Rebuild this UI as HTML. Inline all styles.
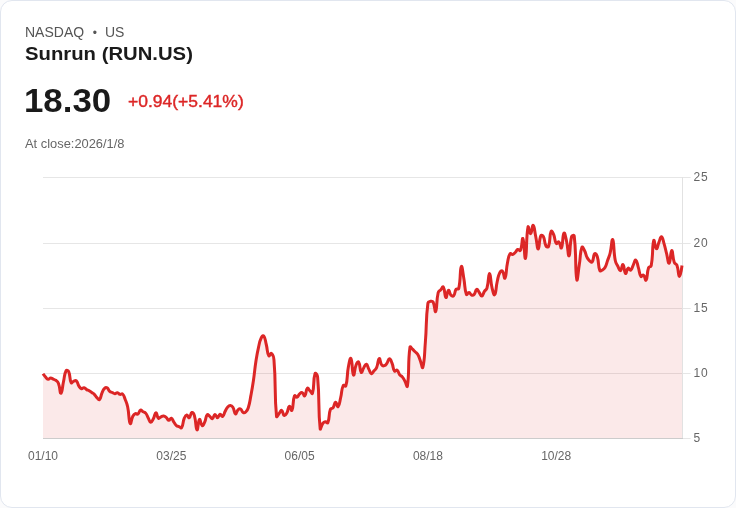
<!DOCTYPE html>
<html lang="en">
<head>
<meta charset="utf-8">
<title>Sunrun (RUN.US)</title>
<style>
html,body{margin:0;padding:0;background:#fbfbfc;}
body{width:736px;height:508px;overflow:hidden;position:relative;font-family:"Liberation Sans",Arial,sans-serif;}
.card{position:absolute;left:0;top:0;width:734px;height:506px;border:1px solid #e1e6ef;border-radius:12px;background:#fff;}
.t{position:absolute;white-space:nowrap;line-height:1;}
.t{transform-origin:0 0;}
.exch{left:25px;top:24px;font-size:14.5px;color:#555;transform:translateY(0.7px) scaleX(0.965);}
.dot{left:92.8px;top:27px;font-size:12px;color:#555;}
.us{left:105.4px;top:24px;font-size:14.5px;color:#555;transform:translateY(0.7px) scaleX(0.965);}
.name{left:25px;top:44px;font-size:18px;font-weight:700;color:#1a1a1a;transform:translateY(0.5px) scaleX(1.127);}
.price{left:23.8px;top:83px;font-size:33.8px;font-weight:700;color:#1a1a1a;transform:translateY(0.55px) scaleX(1.03);}
.chg{left:128px;top:93px;font-size:16.5px;font-weight:400;color:#dc2626;-webkit-text-stroke:0.4px #dc2626;transform:scaleX(1.06);}
.close{left:25px;top:138px;font-size:12px;color:#666;transform:scaleX(1.073);}
svg{position:absolute;left:0;top:0;}
svg text{font-family:"Liberation Sans",Arial,sans-serif;font-size:12px;fill:#666;}
</style>
</head>
<body>
<div class="card"></div>
<div class="t exch">NASDAQ</div><div class="t dot">•</div><div class="t us">US</div>
<div class="t name">Sunrun (RUN.US)</div>
<div class="t price">18.30</div>
<div class="t chg">+0.94(+5.41%)</div>
<div class="t close">At close:2026/1/8</div>
<svg width="736" height="508" viewBox="0 0 736 508">
<g stroke="#e6e6e6" stroke-width="1" shape-rendering="crispEdges">
<line x1="43" y1="177.5" x2="682" y2="177.5"/>
<line x1="43" y1="243.5" x2="682" y2="243.5"/>
<line x1="43" y1="308.5" x2="682" y2="308.5"/>
<line x1="43" y1="373.5" x2="682" y2="373.5"/>
</g>
<path d="M43.00,373.70C43.00,373.70 44.16,375.47 45.57,377.00C46.73,378.27 46.73,379.03 48.13,379.30C49.30,379.53 49.41,378.03 50.70,378.00C51.97,377.98 51.97,378.62 53.27,379.20C54.54,379.77 54.76,379.46 55.83,380.30C57.32,381.46 57.70,381.44 58.40,383.20C60.27,387.94 59.78,393.69 60.96,393.30C62.34,392.84 62.19,387.39 63.53,381.50C64.75,376.14 64.03,374.83 66.10,370.80C66.60,369.83 68.18,370.38 68.66,371.50C70.75,376.38 69.20,379.01 71.23,382.80C71.77,383.81 72.40,381.62 73.80,381.10C74.96,380.67 75.57,380.13 76.36,380.90C78.14,382.63 77.35,383.71 78.93,386.10C79.92,387.61 80.03,388.24 81.49,388.70C82.60,389.04 82.87,387.49 84.06,387.70C85.44,387.94 85.26,388.80 86.63,389.60C87.82,390.30 88.00,390.00 89.19,390.70C90.56,391.50 90.45,391.68 91.76,392.60C93.02,393.48 93.24,393.24 94.33,394.30C95.80,395.74 95.45,396.11 96.89,397.60C98.01,398.76 98.66,400.34 99.46,399.60C101.23,397.94 100.53,396.10 102.02,392.80C103.09,390.45 102.88,389.93 104.59,388.30C105.45,387.48 106.20,387.32 107.16,387.90C108.76,388.87 108.16,390.00 109.72,391.40C110.73,392.30 111.02,391.93 112.29,392.50C113.58,393.08 113.55,393.65 114.86,393.70C116.12,393.75 116.21,392.53 117.42,392.70C118.78,392.88 118.60,394.05 119.99,394.40C121.16,394.70 121.76,393.26 122.55,394.00C124.33,395.66 124.06,396.51 125.12,399.20C126.62,403.01 126.84,402.99 127.69,407.00C129.41,415.19 128.50,420.46 130.25,423.60C131.07,425.06 131.07,419.61 132.82,416.20C133.64,414.61 133.89,414.24 135.39,413.60C136.45,413.14 137.03,414.63 137.95,414.00C139.60,412.88 138.97,410.76 140.52,410.10C141.54,409.66 141.76,411.02 143.08,411.80C144.32,412.52 144.76,412.05 145.65,413.10C147.33,415.10 146.89,415.52 148.22,417.90C149.46,420.12 149.40,422.06 150.78,422.30C151.96,422.51 152.33,420.70 153.35,418.80C154.90,415.90 154.59,412.83 155.92,412.70C157.15,412.58 156.75,416.92 158.48,418.30C159.32,418.97 159.70,417.40 161.05,416.80C162.27,416.25 162.37,415.88 163.61,416.00C164.94,416.13 165.10,416.39 166.18,417.30C167.67,418.54 167.35,420.06 168.75,420.30C169.92,420.51 170.25,417.83 171.31,418.20C172.81,418.73 172.55,420.18 173.88,422.10C175.12,423.88 174.88,424.22 176.45,425.60C177.44,426.47 177.74,426.08 179.01,426.60C180.30,427.13 180.99,428.61 181.58,427.70C183.56,424.61 182.39,422.92 184.14,418.60C184.95,416.62 185.32,415.34 186.71,415.10C187.88,414.89 188.29,418.20 189.28,417.70C190.85,416.90 190.33,413.12 191.84,412.50C192.89,412.07 193.85,413.71 194.41,415.60C196.42,422.41 195.50,428.78 196.98,429.90C198.07,430.73 197.96,420.83 199.54,419.50C200.52,418.68 200.56,424.81 202.11,425.60C203.12,426.11 203.76,424.04 204.67,422.10C206.33,418.59 205.40,416.75 207.24,414.70C207.96,413.90 208.58,415.47 209.81,416.40C211.15,417.42 211.33,419.01 212.37,418.60C213.89,418.01 213.55,414.64 214.94,414.40C216.12,414.19 216.25,417.75 217.51,417.70C218.81,417.65 218.64,414.53 220.07,414.20C221.21,413.93 221.69,417.05 222.64,416.50C224.26,415.55 223.82,413.79 225.20,411.20C226.38,408.99 226.14,408.68 227.77,406.90C228.71,405.88 229.10,405.50 230.34,405.60C231.66,405.70 232.12,406.05 232.90,407.30C234.69,410.15 233.93,413.02 235.47,413.80C236.50,414.32 236.41,411.42 238.04,409.90C238.98,409.02 239.61,408.50 240.60,409.00C242.18,409.80 241.57,411.56 243.17,412.50C244.13,413.06 244.85,412.82 245.73,412.00C247.42,410.42 247.56,410.06 248.30,407.70C250.13,401.86 249.72,401.68 250.87,395.60C252.29,388.08 252.32,388.07 253.43,380.50C254.88,370.67 254.49,370.61 256.00,360.80C257.05,353.96 257.04,353.94 258.57,347.20C259.60,342.64 259.26,342.33 261.13,338.20C261.82,336.68 262.99,335.03 263.70,335.90C265.55,338.18 265.14,340.16 266.27,344.50C267.71,350.11 266.86,352.39 268.83,355.80C269.43,356.84 270.54,352.71 271.40,353.40C273.11,354.76 273.68,356.44 273.96,359.90C276.25,387.89 274.13,391.19 276.53,416.30C276.69,417.99 277.85,414.93 279.10,413.50C280.42,411.98 280.60,409.99 281.66,410.40C283.17,410.99 282.64,414.66 284.23,415.50C285.21,416.01 285.95,414.60 286.80,413.10C288.52,410.05 287.82,407.21 289.36,406.40C290.38,405.86 291.30,411.69 291.93,410.40C293.87,406.39 292.35,401.31 294.49,395.80C294.92,394.71 296.02,397.61 297.06,397.20C298.58,396.61 298.08,395.16 299.63,393.80C300.64,392.91 301.14,392.29 302.19,392.70C303.71,393.29 303.89,396.54 304.76,395.80C306.46,394.34 305.55,390.07 307.33,388.30C308.11,387.52 308.63,389.47 309.89,390.70C311.20,391.97 312.06,394.63 312.46,393.30C314.62,386.13 312.89,380.55 315.02,373.70C315.46,372.30 317.41,374.82 317.59,376.80C319.97,402.27 317.84,407.57 320.16,428.60C320.41,430.92 321.06,425.71 322.72,423.50C323.62,422.31 323.92,422.04 325.29,421.80C326.49,421.59 327.43,423.64 327.86,422.60C330.00,417.34 328.30,415.27 330.42,409.20C330.87,407.92 332.17,409.00 332.99,407.90C334.74,405.55 334.14,402.66 335.55,402.30C336.70,402.01 337.23,407.43 338.12,406.60C339.80,405.03 339.57,402.09 340.69,397.50C342.14,391.54 341.14,390.29 343.25,385.50C343.70,384.49 345.51,387.01 345.82,385.90C348.08,377.66 346.62,376.24 348.39,366.80C349.18,362.54 350.07,357.10 350.95,358.50C352.64,361.20 351.93,372.99 353.52,375.00C354.50,376.24 354.23,369.70 356.08,365.00C356.79,363.20 357.96,361.00 358.65,362.00C360.53,364.70 359.51,370.50 361.22,372.40C362.07,373.35 362.37,369.96 363.78,367.70C364.93,365.86 365.25,363.84 366.35,364.20C367.82,364.69 367.54,366.85 368.92,369.40C370.10,371.60 370.05,373.34 371.48,373.70C372.61,373.99 372.77,372.20 374.05,370.70C375.33,369.20 375.86,369.48 376.61,367.70C378.43,363.38 377.70,359.28 379.18,358.50C380.27,357.93 379.89,362.39 381.75,365.00C382.45,365.99 383.21,366.07 384.31,365.70C385.77,365.22 385.85,364.70 386.88,363.30C388.42,361.20 388.14,358.75 389.45,358.70C390.71,358.65 391.04,360.76 392.01,363.10C393.61,366.96 392.64,368.42 394.58,371.10C395.21,371.97 396.27,369.57 397.14,370.20C398.84,371.42 398.14,372.74 399.71,374.80C400.70,376.09 401.23,375.64 402.28,376.90C403.80,378.74 403.67,378.89 404.84,381.00C406.23,383.49 407.08,388.26 407.41,386.10C409.65,371.36 407.61,364.23 409.98,347.20C410.17,345.78 411.33,348.12 412.54,349.20C413.90,350.42 413.81,350.51 415.11,351.80C416.38,353.06 416.78,352.79 417.67,354.30C419.35,357.14 419.02,357.38 420.24,360.50C421.58,363.93 422.23,369.47 422.81,367.40C424.80,360.22 424.36,354.72 425.37,342.00C426.93,322.52 425.56,321.86 427.94,303.00C428.13,301.51 429.12,301.60 430.51,301.30C431.69,301.05 432.54,300.83 433.07,301.90C435.10,305.98 434.76,313.21 435.64,311.60C437.33,308.51 436.06,301.65 438.20,292.50C438.63,290.70 439.48,291.09 440.77,289.70C442.04,288.34 442.68,286.00 443.34,287.00C445.25,289.90 444.40,296.53 445.90,297.50C446.97,298.18 446.98,290.97 448.47,290.30C449.55,289.82 449.30,293.34 451.04,295.20C451.86,296.09 452.91,296.61 453.60,295.80C455.47,293.61 454.30,291.82 456.17,289.20C456.86,288.22 458.46,289.80 458.73,288.60C461.03,278.50 459.65,269.78 461.30,266.60C462.22,264.83 462.74,272.62 463.87,278.70C465.31,286.52 464.30,288.65 466.43,294.40C466.86,295.55 467.79,292.36 469.00,292.50C470.36,292.66 470.09,294.45 471.57,295.00C472.65,295.40 473.32,295.30 474.13,294.40C475.89,292.45 475.21,289.85 476.70,289.30C477.77,288.90 478.02,290.87 479.27,292.50C480.58,294.22 480.67,296.25 481.83,296.00C483.24,295.70 482.97,293.60 484.40,291.40C485.53,289.65 486.40,290.07 486.96,288.10C488.97,281.12 488.25,273.50 489.53,273.50C490.81,273.50 490.36,280.93 492.10,288.10C492.93,291.53 493.78,295.84 494.66,294.70C496.34,292.54 495.71,288.04 497.23,281.50C498.28,276.99 497.86,276.56 499.80,272.60C500.43,271.31 501.63,270.21 502.36,271.00C504.19,272.96 504.09,279.45 504.93,278.10C506.66,275.30 505.89,270.33 507.49,262.70C508.46,258.13 508.07,256.89 510.06,253.70C510.63,252.79 511.47,254.77 512.63,254.50C514.03,254.17 514.03,253.63 515.19,252.50C516.60,251.13 516.24,250.12 517.76,249.50C518.81,249.07 519.85,251.40 520.33,250.40C522.42,245.95 521.92,237.09 522.89,238.60C524.49,241.09 524.46,260.65 525.46,258.40C527.03,254.85 525.93,237.12 528.02,227.00C528.50,224.72 529.43,233.96 530.59,233.60C532.00,233.16 532.05,224.78 533.16,225.40C534.62,226.23 534.51,230.93 535.72,236.50C537.08,242.73 537.05,249.22 538.29,249.00C539.62,248.77 538.72,240.76 540.86,235.60C541.29,234.56 542.86,235.45 543.42,236.60C545.42,240.65 543.96,242.13 545.99,246.00C546.53,247.03 548.18,247.46 548.55,246.40C550.75,240.16 549.11,235.99 551.12,231.40C551.67,230.14 552.88,232.81 553.69,234.70C555.45,238.86 554.32,240.79 556.25,243.50C556.89,244.39 558.01,241.20 558.82,241.90C560.57,243.40 560.61,249.23 561.39,247.90C563.17,244.83 562.30,235.32 563.95,233.10C564.87,231.87 565.60,236.96 566.52,241.00C568.17,248.31 567.97,256.78 569.08,255.80C570.53,254.53 569.39,245.23 571.65,236.50C571.95,235.33 574.07,234.78 574.22,236.00C576.64,256.23 574.89,268.94 576.78,279.40C577.45,283.09 578.14,271.86 579.35,264.30C580.71,255.81 579.84,252.87 581.92,247.30C582.41,245.97 583.56,248.69 584.48,250.50C586.13,253.74 585.42,254.14 587.05,257.40C587.99,259.29 588.06,259.46 589.61,260.80C590.62,261.66 591.56,262.67 592.18,261.80C594.12,259.07 593.01,255.29 594.75,253.60C595.58,252.79 596.73,254.88 597.31,256.80C599.30,263.38 597.72,265.04 599.88,270.60C600.29,271.64 601.36,270.66 602.45,270.00C603.92,269.11 604.18,269.04 605.01,267.50C606.75,264.29 606.33,264.01 607.58,260.50C608.90,256.76 609.20,256.84 610.14,253.00C611.76,246.44 611.70,238.23 612.71,239.70C614.27,241.98 613.30,250.29 615.28,260.50C615.87,263.54 616.43,263.42 617.84,266.20C619.00,268.47 619.28,270.95 620.41,270.60C621.85,270.15 621.92,264.00 622.98,264.60C624.48,265.45 623.97,272.40 625.54,273.50C626.54,274.20 626.44,269.30 628.11,268.20C629.01,267.60 629.74,270.66 630.67,270.10C632.31,269.11 631.97,267.61 633.24,265.10C634.53,262.56 634.74,259.48 635.81,260.00C637.31,260.73 637.18,263.77 638.37,267.60C639.74,271.97 638.99,273.55 640.94,276.40C641.55,277.30 642.65,274.46 643.51,275.10C645.21,276.36 645.28,281.35 646.07,280.20C647.85,277.60 646.58,273.41 648.64,267.60C649.15,266.16 650.92,267.22 651.20,265.70C653.48,253.67 651.85,246.85 653.77,240.50C654.42,238.35 654.91,248.17 656.34,248.70C657.47,249.12 657.57,245.53 658.90,242.40C660.13,239.53 660.29,236.42 661.47,236.70C662.86,237.02 662.97,240.08 664.04,243.60C665.54,248.58 665.28,248.66 666.60,253.70C667.85,258.46 668.06,263.87 669.17,263.20C670.62,262.32 670.42,250.78 671.73,250.60C672.98,250.43 672.33,256.92 674.30,262.50C674.89,264.17 676.25,263.43 676.87,265.10C678.82,270.38 678.13,276.30 679.43,276.40C680.69,276.50 682.00,265.50 682.00,265.50L682.00,438.5L43.00,438.5Z" fill="#dc2626" fill-opacity="0.1" stroke="none"/>
<g shape-rendering="crispEdges">
<rect x="43" y="438" width="640" height="1" fill="#cccccc"/>
<rect x="682" y="177" width="1" height="261" fill="#e2e2e2"/>
</g>
<g fill="#e6e6e6">
<rect x="683" y="177" width="7.6" height="1"/>
<rect x="683" y="243" width="7.6" height="1"/>
<rect x="683" y="308" width="7.6" height="1"/>
<rect x="683" y="373" width="7.6" height="1"/>
<rect x="683" y="438" width="7.6" height="1"/>
</g>
<path d="M43.00,373.70C43.00,373.70 44.16,375.47 45.57,377.00C46.73,378.27 46.73,379.03 48.13,379.30C49.30,379.53 49.41,378.03 50.70,378.00C51.97,377.98 51.97,378.62 53.27,379.20C54.54,379.77 54.76,379.46 55.83,380.30C57.32,381.46 57.70,381.44 58.40,383.20C60.27,387.94 59.78,393.69 60.96,393.30C62.34,392.84 62.19,387.39 63.53,381.50C64.75,376.14 64.03,374.83 66.10,370.80C66.60,369.83 68.18,370.38 68.66,371.50C70.75,376.38 69.20,379.01 71.23,382.80C71.77,383.81 72.40,381.62 73.80,381.10C74.96,380.67 75.57,380.13 76.36,380.90C78.14,382.63 77.35,383.71 78.93,386.10C79.92,387.61 80.03,388.24 81.49,388.70C82.60,389.04 82.87,387.49 84.06,387.70C85.44,387.94 85.26,388.80 86.63,389.60C87.82,390.30 88.00,390.00 89.19,390.70C90.56,391.50 90.45,391.68 91.76,392.60C93.02,393.48 93.24,393.24 94.33,394.30C95.80,395.74 95.45,396.11 96.89,397.60C98.01,398.76 98.66,400.34 99.46,399.60C101.23,397.94 100.53,396.10 102.02,392.80C103.09,390.45 102.88,389.93 104.59,388.30C105.45,387.48 106.20,387.32 107.16,387.90C108.76,388.87 108.16,390.00 109.72,391.40C110.73,392.30 111.02,391.93 112.29,392.50C113.58,393.08 113.55,393.65 114.86,393.70C116.12,393.75 116.21,392.53 117.42,392.70C118.78,392.88 118.60,394.05 119.99,394.40C121.16,394.70 121.76,393.26 122.55,394.00C124.33,395.66 124.06,396.51 125.12,399.20C126.62,403.01 126.84,402.99 127.69,407.00C129.41,415.19 128.50,420.46 130.25,423.60C131.07,425.06 131.07,419.61 132.82,416.20C133.64,414.61 133.89,414.24 135.39,413.60C136.45,413.14 137.03,414.63 137.95,414.00C139.60,412.88 138.97,410.76 140.52,410.10C141.54,409.66 141.76,411.02 143.08,411.80C144.32,412.52 144.76,412.05 145.65,413.10C147.33,415.10 146.89,415.52 148.22,417.90C149.46,420.12 149.40,422.06 150.78,422.30C151.96,422.51 152.33,420.70 153.35,418.80C154.90,415.90 154.59,412.83 155.92,412.70C157.15,412.58 156.75,416.92 158.48,418.30C159.32,418.97 159.70,417.40 161.05,416.80C162.27,416.25 162.37,415.88 163.61,416.00C164.94,416.13 165.10,416.39 166.18,417.30C167.67,418.54 167.35,420.06 168.75,420.30C169.92,420.51 170.25,417.83 171.31,418.20C172.81,418.73 172.55,420.18 173.88,422.10C175.12,423.88 174.88,424.22 176.45,425.60C177.44,426.47 177.74,426.08 179.01,426.60C180.30,427.13 180.99,428.61 181.58,427.70C183.56,424.61 182.39,422.92 184.14,418.60C184.95,416.62 185.32,415.34 186.71,415.10C187.88,414.89 188.29,418.20 189.28,417.70C190.85,416.90 190.33,413.12 191.84,412.50C192.89,412.07 193.85,413.71 194.41,415.60C196.42,422.41 195.50,428.78 196.98,429.90C198.07,430.73 197.96,420.83 199.54,419.50C200.52,418.68 200.56,424.81 202.11,425.60C203.12,426.11 203.76,424.04 204.67,422.10C206.33,418.59 205.40,416.75 207.24,414.70C207.96,413.90 208.58,415.47 209.81,416.40C211.15,417.42 211.33,419.01 212.37,418.60C213.89,418.01 213.55,414.64 214.94,414.40C216.12,414.19 216.25,417.75 217.51,417.70C218.81,417.65 218.64,414.53 220.07,414.20C221.21,413.93 221.69,417.05 222.64,416.50C224.26,415.55 223.82,413.79 225.20,411.20C226.38,408.99 226.14,408.68 227.77,406.90C228.71,405.88 229.10,405.50 230.34,405.60C231.66,405.70 232.12,406.05 232.90,407.30C234.69,410.15 233.93,413.02 235.47,413.80C236.50,414.32 236.41,411.42 238.04,409.90C238.98,409.02 239.61,408.50 240.60,409.00C242.18,409.80 241.57,411.56 243.17,412.50C244.13,413.06 244.85,412.82 245.73,412.00C247.42,410.42 247.56,410.06 248.30,407.70C250.13,401.86 249.72,401.68 250.87,395.60C252.29,388.08 252.32,388.07 253.43,380.50C254.88,370.67 254.49,370.61 256.00,360.80C257.05,353.96 257.04,353.94 258.57,347.20C259.60,342.64 259.26,342.33 261.13,338.20C261.82,336.68 262.99,335.03 263.70,335.90C265.55,338.18 265.14,340.16 266.27,344.50C267.71,350.11 266.86,352.39 268.83,355.80C269.43,356.84 270.54,352.71 271.40,353.40C273.11,354.76 273.68,356.44 273.96,359.90C276.25,387.89 274.13,391.19 276.53,416.30C276.69,417.99 277.85,414.93 279.10,413.50C280.42,411.98 280.60,409.99 281.66,410.40C283.17,410.99 282.64,414.66 284.23,415.50C285.21,416.01 285.95,414.60 286.80,413.10C288.52,410.05 287.82,407.21 289.36,406.40C290.38,405.86 291.30,411.69 291.93,410.40C293.87,406.39 292.35,401.31 294.49,395.80C294.92,394.71 296.02,397.61 297.06,397.20C298.58,396.61 298.08,395.16 299.63,393.80C300.64,392.91 301.14,392.29 302.19,392.70C303.71,393.29 303.89,396.54 304.76,395.80C306.46,394.34 305.55,390.07 307.33,388.30C308.11,387.52 308.63,389.47 309.89,390.70C311.20,391.97 312.06,394.63 312.46,393.30C314.62,386.13 312.89,380.55 315.02,373.70C315.46,372.30 317.41,374.82 317.59,376.80C319.97,402.27 317.84,407.57 320.16,428.60C320.41,430.92 321.06,425.71 322.72,423.50C323.62,422.31 323.92,422.04 325.29,421.80C326.49,421.59 327.43,423.64 327.86,422.60C330.00,417.34 328.30,415.27 330.42,409.20C330.87,407.92 332.17,409.00 332.99,407.90C334.74,405.55 334.14,402.66 335.55,402.30C336.70,402.01 337.23,407.43 338.12,406.60C339.80,405.03 339.57,402.09 340.69,397.50C342.14,391.54 341.14,390.29 343.25,385.50C343.70,384.49 345.51,387.01 345.82,385.90C348.08,377.66 346.62,376.24 348.39,366.80C349.18,362.54 350.07,357.10 350.95,358.50C352.64,361.20 351.93,372.99 353.52,375.00C354.50,376.24 354.23,369.70 356.08,365.00C356.79,363.20 357.96,361.00 358.65,362.00C360.53,364.70 359.51,370.50 361.22,372.40C362.07,373.35 362.37,369.96 363.78,367.70C364.93,365.86 365.25,363.84 366.35,364.20C367.82,364.69 367.54,366.85 368.92,369.40C370.10,371.60 370.05,373.34 371.48,373.70C372.61,373.99 372.77,372.20 374.05,370.70C375.33,369.20 375.86,369.48 376.61,367.70C378.43,363.38 377.70,359.28 379.18,358.50C380.27,357.93 379.89,362.39 381.75,365.00C382.45,365.99 383.21,366.07 384.31,365.70C385.77,365.22 385.85,364.70 386.88,363.30C388.42,361.20 388.14,358.75 389.45,358.70C390.71,358.65 391.04,360.76 392.01,363.10C393.61,366.96 392.64,368.42 394.58,371.10C395.21,371.97 396.27,369.57 397.14,370.20C398.84,371.42 398.14,372.74 399.71,374.80C400.70,376.09 401.23,375.64 402.28,376.90C403.80,378.74 403.67,378.89 404.84,381.00C406.23,383.49 407.08,388.26 407.41,386.10C409.65,371.36 407.61,364.23 409.98,347.20C410.17,345.78 411.33,348.12 412.54,349.20C413.90,350.42 413.81,350.51 415.11,351.80C416.38,353.06 416.78,352.79 417.67,354.30C419.35,357.14 419.02,357.38 420.24,360.50C421.58,363.93 422.23,369.47 422.81,367.40C424.80,360.22 424.36,354.72 425.37,342.00C426.93,322.52 425.56,321.86 427.94,303.00C428.13,301.51 429.12,301.60 430.51,301.30C431.69,301.05 432.54,300.83 433.07,301.90C435.10,305.98 434.76,313.21 435.64,311.60C437.33,308.51 436.06,301.65 438.20,292.50C438.63,290.70 439.48,291.09 440.77,289.70C442.04,288.34 442.68,286.00 443.34,287.00C445.25,289.90 444.40,296.53 445.90,297.50C446.97,298.18 446.98,290.97 448.47,290.30C449.55,289.82 449.30,293.34 451.04,295.20C451.86,296.09 452.91,296.61 453.60,295.80C455.47,293.61 454.30,291.82 456.17,289.20C456.86,288.22 458.46,289.80 458.73,288.60C461.03,278.50 459.65,269.78 461.30,266.60C462.22,264.83 462.74,272.62 463.87,278.70C465.31,286.52 464.30,288.65 466.43,294.40C466.86,295.55 467.79,292.36 469.00,292.50C470.36,292.66 470.09,294.45 471.57,295.00C472.65,295.40 473.32,295.30 474.13,294.40C475.89,292.45 475.21,289.85 476.70,289.30C477.77,288.90 478.02,290.87 479.27,292.50C480.58,294.22 480.67,296.25 481.83,296.00C483.24,295.70 482.97,293.60 484.40,291.40C485.53,289.65 486.40,290.07 486.96,288.10C488.97,281.12 488.25,273.50 489.53,273.50C490.81,273.50 490.36,280.93 492.10,288.10C492.93,291.53 493.78,295.84 494.66,294.70C496.34,292.54 495.71,288.04 497.23,281.50C498.28,276.99 497.86,276.56 499.80,272.60C500.43,271.31 501.63,270.21 502.36,271.00C504.19,272.96 504.09,279.45 504.93,278.10C506.66,275.30 505.89,270.33 507.49,262.70C508.46,258.13 508.07,256.89 510.06,253.70C510.63,252.79 511.47,254.77 512.63,254.50C514.03,254.17 514.03,253.63 515.19,252.50C516.60,251.13 516.24,250.12 517.76,249.50C518.81,249.07 519.85,251.40 520.33,250.40C522.42,245.95 521.92,237.09 522.89,238.60C524.49,241.09 524.46,260.65 525.46,258.40C527.03,254.85 525.93,237.12 528.02,227.00C528.50,224.72 529.43,233.96 530.59,233.60C532.00,233.16 532.05,224.78 533.16,225.40C534.62,226.23 534.51,230.93 535.72,236.50C537.08,242.73 537.05,249.22 538.29,249.00C539.62,248.77 538.72,240.76 540.86,235.60C541.29,234.56 542.86,235.45 543.42,236.60C545.42,240.65 543.96,242.13 545.99,246.00C546.53,247.03 548.18,247.46 548.55,246.40C550.75,240.16 549.11,235.99 551.12,231.40C551.67,230.14 552.88,232.81 553.69,234.70C555.45,238.86 554.32,240.79 556.25,243.50C556.89,244.39 558.01,241.20 558.82,241.90C560.57,243.40 560.61,249.23 561.39,247.90C563.17,244.83 562.30,235.32 563.95,233.10C564.87,231.87 565.60,236.96 566.52,241.00C568.17,248.31 567.97,256.78 569.08,255.80C570.53,254.53 569.39,245.23 571.65,236.50C571.95,235.33 574.07,234.78 574.22,236.00C576.64,256.23 574.89,268.94 576.78,279.40C577.45,283.09 578.14,271.86 579.35,264.30C580.71,255.81 579.84,252.87 581.92,247.30C582.41,245.97 583.56,248.69 584.48,250.50C586.13,253.74 585.42,254.14 587.05,257.40C587.99,259.29 588.06,259.46 589.61,260.80C590.62,261.66 591.56,262.67 592.18,261.80C594.12,259.07 593.01,255.29 594.75,253.60C595.58,252.79 596.73,254.88 597.31,256.80C599.30,263.38 597.72,265.04 599.88,270.60C600.29,271.64 601.36,270.66 602.45,270.00C603.92,269.11 604.18,269.04 605.01,267.50C606.75,264.29 606.33,264.01 607.58,260.50C608.90,256.76 609.20,256.84 610.14,253.00C611.76,246.44 611.70,238.23 612.71,239.70C614.27,241.98 613.30,250.29 615.28,260.50C615.87,263.54 616.43,263.42 617.84,266.20C619.00,268.47 619.28,270.95 620.41,270.60C621.85,270.15 621.92,264.00 622.98,264.60C624.48,265.45 623.97,272.40 625.54,273.50C626.54,274.20 626.44,269.30 628.11,268.20C629.01,267.60 629.74,270.66 630.67,270.10C632.31,269.11 631.97,267.61 633.24,265.10C634.53,262.56 634.74,259.48 635.81,260.00C637.31,260.73 637.18,263.77 638.37,267.60C639.74,271.97 638.99,273.55 640.94,276.40C641.55,277.30 642.65,274.46 643.51,275.10C645.21,276.36 645.28,281.35 646.07,280.20C647.85,277.60 646.58,273.41 648.64,267.60C649.15,266.16 650.92,267.22 651.20,265.70C653.48,253.67 651.85,246.85 653.77,240.50C654.42,238.35 654.91,248.17 656.34,248.70C657.47,249.12 657.57,245.53 658.90,242.40C660.13,239.53 660.29,236.42 661.47,236.70C662.86,237.02 662.97,240.08 664.04,243.60C665.54,248.58 665.28,248.66 666.60,253.70C667.85,258.46 668.06,263.87 669.17,263.20C670.62,262.32 670.42,250.78 671.73,250.60C672.98,250.43 672.33,256.92 674.30,262.50C674.89,264.17 676.25,263.43 676.87,265.10C678.82,270.38 678.13,276.30 679.43,276.40C680.69,276.50 682.00,265.50 682.00,265.50" fill="none" stroke="#dc2626" stroke-width="3" stroke-linejoin="round" stroke-linecap="butt"/>
<g letter-spacing="0.8">
<text x="693.6" y="181">25</text>
<text x="693.6" y="247">20</text>
<text x="693.6" y="312">15</text>
<text x="693.6" y="377">10</text>
<text x="693.6" y="442">5</text>
</g>
<g text-anchor="middle">
<text x="43" y="460">01/10</text>
<text x="171.3" y="460">03/25</text>
<text x="299.6" y="460">06/05</text>
<text x="427.9" y="460">08/18</text>
<text x="556.2" y="460">10/28</text>
</g>
</svg>
</body>
</html>
